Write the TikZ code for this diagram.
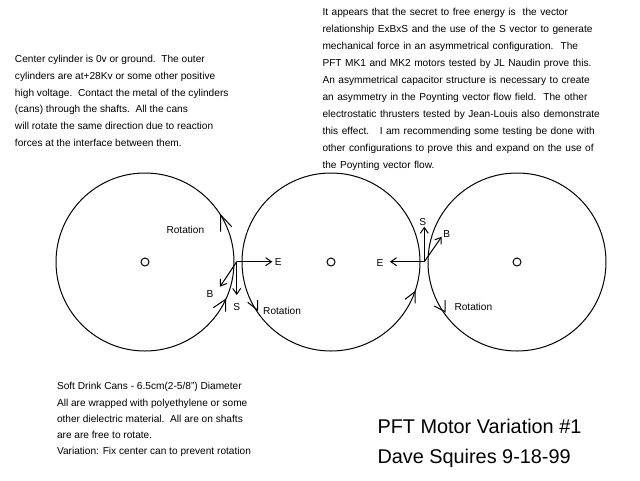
\documentclass[tikz,border=0pt]{standalone}
\usepackage{fontspec}
\setmainfont{Liberation Sans}
\newfontfamily\rblockfont[WordSpace=1.25]{Liberation Sans}
\usetikzlibrary{arrows.meta}
\begin{document}
\begin{tikzpicture}[x=0.75pt,y=-0.75pt,line width=0.75pt,
  txt/.style={anchor=base west,inner sep=0pt,font=\fontsize{7.6}{9}\selectfont},
  rtxt/.style={anchor=base west,inner sep=0pt,font=\rblockfont\fontsize{7.6}{9}\selectfont},
  lbl/.style={inner sep=0pt,font=\fontsize{7.6}{9}\selectfont},
  ttl/.style={anchor=base west,inner sep=0pt,font=\fontsize{14.9}{17}\selectfont},
  can/.style={draw,circle,inner sep=0pt,outer sep=0pt,minimum size=133.5pt},
  shaft/.style={draw,circle,inner sep=0pt,outer sep=0pt,minimum size=6pt},
  vec/.style={-{Straight Barb[length=4.3pt,width=6pt]}},
  rot/.style={line join=miter}]
\useasboundingbox (0,0) rectangle (640,480);
% cans
\node[can] (c1) at (145,262) {};
\node[can] (c2) at (331,262) {};
\node[can] (c3) at (517,262) {};
\node[shaft] (s1) at (145,262) {};
\node[shaft] (s2) at (331,262) {};
\node[shaft] (s3) at (517,262) {};
% rotation arrow heads
\draw[rot] (220.7,231.7) -- (220.7,215) -- (231.7,226.7);
\draw[rot] (225.7,311.7) -- (225.7,299.3) -- (213.3,307.7);
\draw[rot] (257.5,300) -- (257.5,310) -- (247.7,302.3);
\draw[rot] (415,303.3) -- (415,291.7) -- (405,299.3);
\draw[rot] (445,300) -- (445,311.7) -- (434.3,306);
% vectors, left interface
\coordinate (oL) at (236.7,261.7);
\coordinate (eL) at (272.3,261.7);
\coordinate (sL) at (236.7,295);
\coordinate (bL) at (220,286.7);
\draw[vec] (oL) -- (eL);
\draw[vec] (oL) -- (sL);
\draw[vec] (oL) -- (bL);
\node[lbl] (EL) at (278.3,262.3) {E};
\node[lbl] (SL) at (236.7,306.7) {S};
\node[lbl] (BL) at (210,294.3) {B};
% vectors, right interface
\coordinate (oR) at (424.3,261.7);
\coordinate (eR) at (390,261.7);
\coordinate (sR) at (424.3,226.7);
\coordinate (bR) at (441.7,236.7);
\draw[vec] (oR) -- (eR);
\draw[vec] (oR) -- (sR);
\draw[vec] (oR) -- (bR);
\node[lbl] (ER) at (380,263.3) {E};
\node[lbl] (SR) at (422.7,221.7) {S};
\node[lbl] (BR) at (446.7,234.3) {B};
% rotation labels
\node[txt] (r1) at (166,233.7) {Rotation};
\node[txt] (r2) at (262.7,314.3) {Rotation};
\node[txt] (r3) at (454,310.3) {Rotation};
% left text block
\foreach \t [count=\i] in {%
  {Center cylinder is 0v or ground.\ \ The outer},
  {cylinders are at+28Kv or some other positive},
  {high voltage.\ \ Contact the metal of the cylinders},
  {(cans) through the shafts.\ \ All the cans},
  {will rotate the same direction due to reaction},
  {forces at the interface between them.}}
  \node[txt] (L\i) at (14.5,{62.2+(\i-1)*16.9}) {\t};
% right text block
\foreach \t [count=\i] in {%
  {It appears that the secret to free energy is\ \ the vector},
  {relationship ExBxS and the use of the S vector to generate},
  {mechanical force in an asymmetrical configuration.\ \ The},
  {PFT MK1 and MK2 motors tested by JL Naudin prove this.},
  {An asymmetrical capacitor structure is necessary to create},
  {an asymmetry in the Poynting vector flow field.\ \ The other},
  {electrostatic thrusters tested by Jean-Louis also demonstrate},
  {this effect.\ \ \ I am recommending some testing be done with},
  {other configurations to prove this and expand on the use of},
  {the Poynting vector flow.}}
  \node[rtxt] (R\i) at (322,{15.5+(\i-1)*17}) {\t};
% bottom-left block
\foreach \t [count=\i] in {%
  {Soft Drink Cans - 6.5cm(2-5/8") Diameter},
  {All are wrapped with polyethylene or some},
  {other dielectric material.\ \ All are on shafts},
  {are are free to rotate.},
  {Variation: Fix center can to prevent rotation}}
  \node[txt] (B\i) at (56.5,{389.8+(\i-1)*16.25}) {\t};
% title
\node[ttl] (t1) at (377,433) {PFT Motor Variation \#1};
\node[ttl] (t2) at (377,463) {Dave Squires 9-18-99};
\end{tikzpicture}
\end{document}
